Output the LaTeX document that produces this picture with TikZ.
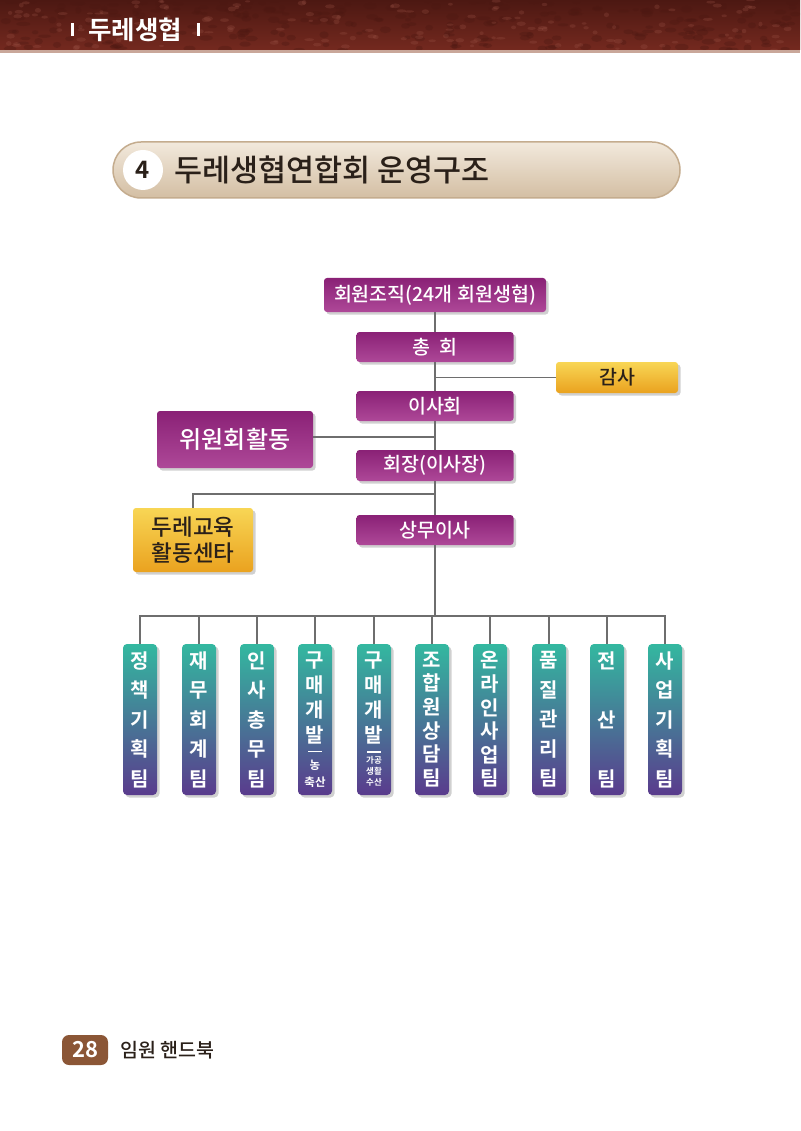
\documentclass[tikz,border=0pt]{standalone}
\usepackage{fontspec}
\setmainfont{Noto Sans CJK KR}[BoldFont={Noto Sans CJK KR Bold}]
\newfontfamily\krmed{Noto Sans CJK KR Medium}
\usetikzlibrary{shadows}

\definecolor{leather}{HTML}{74291F}
\definecolor{leatherdk}{HTML}{4C1812}
\definecolor{leatherlt}{HTML}{A0574A}
\definecolor{leatherrim}{HTML}{C9A79A}
\definecolor{pilltop}{HTML}{F2E9DC}
\definecolor{pillbot}{HTML}{D3BEA3}
\definecolor{pillrim}{HTML}{C4AC8E}
\definecolor{magtop}{HTML}{8A2176}
\definecolor{magbot}{HTML}{AE4898}
\definecolor{goldtop}{HTML}{F8D655}
\definecolor{goldbot}{HTML}{EAA21F}
\definecolor{tealtop}{HTML}{33B8A0}
\definecolor{violetbot}{HTML}{5A3B8D}
\definecolor{wire}{HTML}{6E6E6E}
\definecolor{inkdark}{HTML}{2A2019}
\definecolor{pagebrown}{HTML}{8B5636}

\tikzset{
  boxshadow/.style={drop shadow={shadow xshift=2.5pt, shadow yshift=-2.5pt, opacity=0.3, fill=black!60}},
  unitbox/.style={rounded corners=3pt, top color=magtop, bottom color=magbot, text=white,
    inner sep=0pt, minimum width=157, minimum height=30, font=\krmed\fontsize{19.5}{19.5}\selectfont, boxshadow},
  goldbox/.style={rounded corners=3pt, top color=goldtop, bottom color=goldbot, text=inkdark,
    inner sep=0pt, font=\krmed\fontsize{19.5}{19.5}\selectfont, boxshadow},
  teambox/.style={rounded corners=4pt, top color=tealtop, bottom color=violetbot, text=white,
    minimum width=34, minimum height=151, inner sep=0pt, align=center, boxshadow},
  wireline/.style={wire, line width=1.8pt},
}

\begin{document}
\begin{tikzpicture}[x=1pt, y=-1pt]
\useasboundingbox (0,0) rectangle (800,1131);
\fill[white] (0,0) rectangle (800,1131);

% leather band
\begin{scope}
  \clip (0,0) rectangle (800,50);
  \fill[top color=leatherdk, bottom color=leather] (0,0) rectangle (800,50);
  \pgfmathsetseed{11}
  \foreach \k in {1,...,260}
    \fill[leatherdk, opacity=0.35] ({800*rnd},{50*rnd}) ellipse ({3+4*rnd} and {1.5+2*rnd});
  \foreach \k in {1,...,160}
    \fill[leatherlt, opacity=0.25] ({800*rnd},{50*rnd}) ellipse ({2+3*rnd} and {1+1.5*rnd});
\end{scope}
\fill[leatherrim] (0,50) rectangle (800,53);
\fill[white] (71,23) rectangle (74,36);
\fill[white] (197,23) rectangle (200,36);
\node[text=white, font=\bfseries\fontsize{25.5}{25.5}\selectfont] (brand) at (135,30) {두레생협};

% title
\node[rounded corners=28pt, top color=pilltop, bottom color=pillbot, draw=pillrim, line width=1.5pt,
  minimum width=567, minimum height=56, inner sep=0pt] (pill) at (396.5,170) {};
\node[circle, fill=white, minimum size=40, inner sep=0pt, text=inkdark,
  font=\bfseries\fontsize{24}{24}\selectfont] (num) at (143,170) {4};
\node[anchor=west, text=inkdark, font=\krmed\fontsize{30.5}{30.5}\selectfont] (ttl) at (171,170) {두레생협연합회 운영구조};

% chart
\node[unitbox, minimum width=222, minimum height=34] (org) at (435,295) {회원조직(24개 회원생협)};
\node[unitbox] (gm) at (435,347) {총\hspace{0.5em}회};
\node[goldbox, minimum width=122, minimum height=31] (audit) at (617,377.5) {감사};
\node[unitbox] (board) at (435,406) {이사회};
\node[unitbox, minimum width=156, minimum height=57, font=\krmed\fontsize{24}{24}\selectfont] (comm) at (235,439.5) {위원회활동};
\node[unitbox, minimum height=31] (chair) at (435,465.5) {회장(이사장)};
\node[goldbox, minimum width=120, minimum height=64, align=center,
  font=\krmed\fontsize{22.5}{26}\selectfont] (edu) at (193,540) {두레교육\\활동센타};
\node[unitbox] (sangmu) at (435,530) {상무이사};

\foreach \i/\x/\lead/\txt in {
  1/140/29.5/{정\\책\\기\\획\\팀},
  2/199/29.5/{재\\무\\회\\계\\팀},
  3/257/29.5/{인\\사\\총\\무\\팀},
  4/315/25/{구\\매\\개\\발\\[-15pt]\rule{14pt}{1.8pt}\\[-8pt]{\fontsize{11.5}{11.5}\selectfont 농}\\[-8pt]{\fontsize{11.5}{11.5}\selectfont 축산}},
  5/374/25/{구\\매\\개\\발\\[-15pt]\rule{14pt}{1.8pt}\\[-14pt]{\fontsize{8.5}{8.5}\selectfont 가공}\\[-14pt]{\fontsize{8.5}{8.5}\selectfont 생활}\\[-14pt]{\fontsize{8.5}{8.5}\selectfont 수산}},
  6/432/23.6/{조\\합\\원\\상\\담\\팀},
  7/490/23.6/{온\\라\\인\\사\\업\\팀},
  8/549/29.5/{품\\질\\관\\리\\팀},
  9/607/29.5/{전\\[29.5pt]산\\[29.5pt]팀},
  10/665/29.5/{사\\업\\기\\획\\팀}}
  \node[teambox, font=\bfseries\fontsize{20}{\lead}\selectfont] (t\i) at (\x,719.5) {\txt};

% connectors
\coordinate (eduj) at (435,494);
\coordinate (bus) at (435,616);
\draw[wireline] (org) -- (gm);
\draw[wireline] (gm) -- (board);
\draw[wireline] (board) -- (chair);
\draw[wireline] (chair) -- (sangmu);
\draw[wireline] (audit.west) -- (audit.west -| gm.south);
\draw[wireline] ([yshift=2.5pt]comm.east) -- ([yshift=2.5pt]comm.east -| board.south);
\draw[wireline] (edu.north) |- (eduj);
\draw[wireline] (sangmu) -- (bus);
\draw[wireline] (t1.north) |- (bus) -| (t10.north);
\foreach \i in {2,...,9}
  \draw[wireline] (t\i.north |- bus) -- (t\i.north);

% footer
\node[fill=pagebrown, rounded corners=7pt, minimum width=46, minimum height=30, inner sep=0pt,
  text=white, font=\bfseries\fontsize{22}{22}\selectfont] (pg) at (85,1050) {28};
\node[anchor=west, text=inkdark, font=\krmed\fontsize{19.5}{19.5}\selectfont] (book) at (117,1050) {임원 핸드북};
\end{tikzpicture}
\end{document}
